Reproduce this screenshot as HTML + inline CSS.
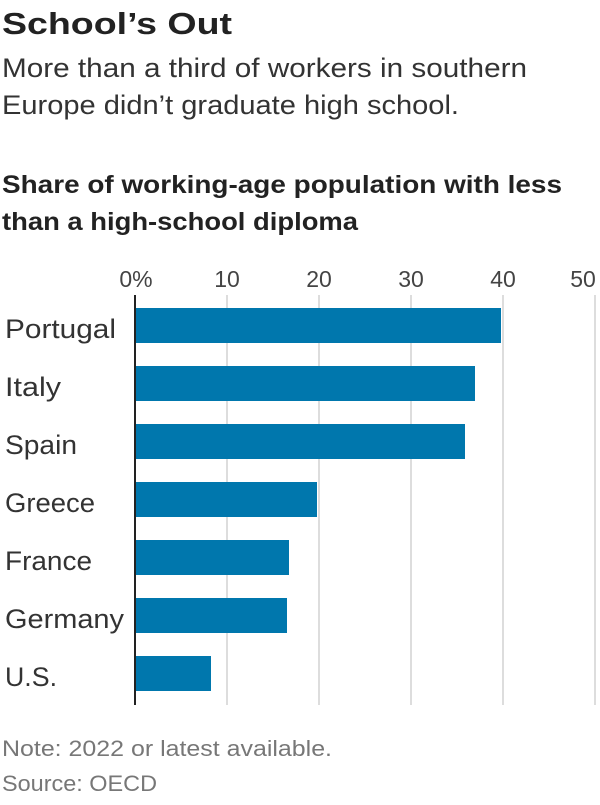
<!DOCTYPE html>
<html><head><meta charset="utf-8"><style>
body{margin:0;background:#fff;width:600px;height:800px;overflow:hidden;font-family:"Liberation Sans",sans-serif;color:#333}
</style></head><body>
<svg width="600" height="800" xmlns="http://www.w3.org/2000/svg" font-family="Liberation Sans, sans-serif">
<text x="2" y="34" font-size="31" font-weight="bold" fill="#222" textLength="230" lengthAdjust="spacingAndGlyphs">School’s Out</text>
<text x="2" y="77" font-size="27" fill="#333" textLength="525" lengthAdjust="spacingAndGlyphs">More than a third of workers in southern</text>
<text x="2" y="114" font-size="27" fill="#333" textLength="457" lengthAdjust="spacingAndGlyphs">Europe didn’t graduate high school.</text>
<text x="2" y="193" font-size="25" font-weight="bold" fill="#222" textLength="560" lengthAdjust="spacingAndGlyphs">Share of working-age population with less</text>
<text x="2" y="230" font-size="25" font-weight="bold" fill="#222" textLength="356" lengthAdjust="spacingAndGlyphs">than a high-school diploma</text>
<g stroke="#ddd" stroke-width="2">
<line x1="227" y1="295" x2="227" y2="705"/><line x1="319" y1="295" x2="319" y2="705"/>
<line x1="411" y1="295" x2="411" y2="705"/><line x1="503" y1="295" x2="503" y2="705"/>
<line x1="595" y1="295" x2="595" y2="705"/></g>
<g font-size="23" fill="#444" text-anchor="middle">
<text x="136" y="287">0%</text><text x="227" y="287">10</text><text x="319" y="287">20</text>
<text x="411" y="287">30</text><text x="503" y="287">40</text><text x="583" y="287">50</text></g>
<g fill="#0077ad">
<rect x="136" y="308" width="365" height="35"/>
<rect x="136" y="366" width="339" height="35"/>
<rect x="136" y="424" width="329" height="35"/>
<rect x="136" y="482" width="181" height="35"/>
<rect x="136" y="540" width="153" height="35"/>
<rect x="136" y="598" width="151" height="35"/>
<rect x="136" y="656" width="75" height="35"/></g>
<line x1="135" y1="295" x2="135" y2="705" stroke="#222" stroke-width="2"/>
<g font-size="27" fill="#333">
<text x="5" y="338" textLength="111" lengthAdjust="spacingAndGlyphs">Portugal</text>
<text x="5" y="396" textLength="56" lengthAdjust="spacingAndGlyphs">Italy</text>
<text x="5" y="454" textLength="72" lengthAdjust="spacingAndGlyphs">Spain</text>
<text x="5" y="512" textLength="90" lengthAdjust="spacingAndGlyphs">Greece</text>
<text x="5" y="570" textLength="87" lengthAdjust="spacingAndGlyphs">France</text>
<text x="5" y="628" textLength="119" lengthAdjust="spacingAndGlyphs">Germany</text>
<text x="5" y="686" textLength="52" lengthAdjust="spacingAndGlyphs">U.S.</text></g>
<g font-size="22" fill="#777">
<text x="2" y="756" textLength="330" lengthAdjust="spacingAndGlyphs">Note: 2022 or latest available.</text>
<text x="2" y="791" textLength="155" lengthAdjust="spacingAndGlyphs">Source: OECD</text></g>
</svg>
</body></html>
